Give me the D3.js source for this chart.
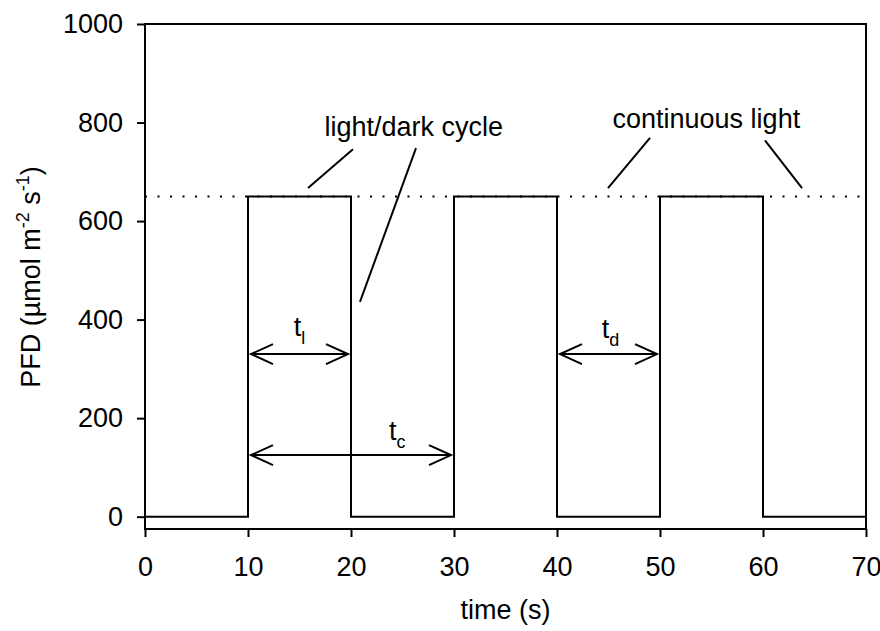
<!DOCTYPE html>
<html>
<head>
<meta charset="utf-8">
<script src="https://cdn.jsdelivr.net/npm/d3@7/dist/d3.min.js"></script>
<style>
  html, body { margin: 0; padding: 0; background: #fff; }
  svg text { font-family: "Liberation Sans", Arial, sans-serif; fill: #000; }
</style>
</head>
<body>
<svg id="chart" width="880" height="631"></svg>
<script>
// Square-wave light/dark cycle (PFD vs time)
const timePoints = [0, 10, 10, 20, 20, 30, 30, 40, 40, 50, 50, 60, 60, 70];
const pfdValues  = [0, 0, 650, 650, 0, 0, 650, 650, 0, 0, 650, 650, 0, 0];
const continuousPFD = 650;

const xTicks = [0, 10, 20, 30, 40, 50, 60, 70];
const yTicks = [0, 200, 400, 600, 800, 1000];

// Double-headed interval arrows
const intervalNames = ["t", "t", "t"];
const intervalSubs  = ["l", "c", "d"];
const intervalFrom  = [10, 10, 40];
const intervalTo    = [20, 30, 50];
const intervalLevel = [330, 125, 330];
const intervalLabelX = [15, 24.5, 45.2];
const intervalLabelY = [367, 156, 362];

// Callout text and their leader lines
const calloutText = ["light/dark cycle", "continuous light"];
const calloutX = [26.1, 54.5];
const calloutY = [773, 789];
const leaderX1 = [20.19, 26.31, 49.03, 60.19];
const leaderY1 = [746, 748, 769, 764];
const leaderX2 = [15.83, 20.87, 44.95, 63.79];
const leaderY2 = [667, 436, 667, 667];

const svg = d3.select("#chart");
const x = d3.scaleLinear().domain([0, 70]).range([145, 866]);
const y = d3.scaleLinear().domain([-25, 1000]).range([529, 24]);

const fontSize = 27;
const subSize = 18;

// frame
svg.append("rect")
  .attr("x", x(0)).attr("y", y(1000))
  .attr("width", x(70) - x(0)).attr("height", y(-25) - y(1000))
  .attr("fill", "none").attr("stroke", "#000").attr("stroke-width", 2);

// y axis
const yAxis = d3.axisLeft(y).tickValues(yTicks).tickSize(8).tickPadding(14).tickFormat(d3.format("d"));
const gy = svg.append("g").attr("transform", `translate(${x(0)},0)`).call(yAxis);
gy.select(".domain").remove();
gy.selectAll("line").attr("stroke-width", 2);
gy.selectAll("text").attr("font-size", fontSize).attr("font-family", "Liberation Sans, Arial, sans-serif");

// x axis
const xAxis = d3.axisBottom(x).tickValues(xTicks).tickSize(8).tickPadding(20).tickFormat(d3.format("d"));
const gx = svg.append("g").attr("transform", `translate(0,${y(-25)})`).call(xAxis);
gx.select(".domain").remove();
gx.selectAll("line").attr("stroke-width", 2);
gx.selectAll("text").attr("font-size", fontSize).attr("font-family", "Liberation Sans, Arial, sans-serif");

// continuous light reference (dotted)
svg.append("line")
  .attr("x1", x(0)).attr("x2", x(70))
  .attr("y1", y(continuousPFD)).attr("y2", y(continuousPFD))
  .attr("stroke", "#000").attr("stroke-width", 2)
  .attr("stroke-dasharray", "2 10.5");

// square wave
const wave = timePoints.map((t, i) => [t, pfdValues[i]]);
svg.append("path")
  .datum(wave)
  .attr("d", d3.line().x(d => x(d[0])).y(d => y(d[1])))
  .attr("fill", "none").attr("stroke", "#000").attr("stroke-width", 2);

// interval arrows
const headLen = 22, headHalf = 10, inset = 3;
intervalFrom.forEach((f, i) => {
  const x1 = x(f) + inset, x2 = x(intervalTo[i]) - inset, yy = y(intervalLevel[i]);
  const g = svg.append("g").attr("fill", "none").attr("stroke", "#000").attr("stroke-width", 2);
  g.append("line").attr("x1", x1).attr("x2", x2).attr("y1", yy).attr("y2", yy);
  g.append("path").attr("d", `M${x1 + headLen},${yy - headHalf}L${x1},${yy}L${x1 + headLen},${yy + headHalf}`);
  g.append("path").attr("d", `M${x2 - headLen},${yy - headHalf}L${x2},${yy}L${x2 - headLen},${yy + headHalf}`);
  const tx = svg.append("text")
    .attr("x", x(intervalLabelX[i])).attr("y", y(intervalLabelY[i]))
    .attr("text-anchor", "middle").attr("font-size", fontSize);
  tx.append("tspan").text(intervalNames[i]);
  tx.append("tspan").attr("font-size", subSize).attr("dy", 8).text(intervalSubs[i]);
});

// leader lines
leaderX1.forEach((v, i) => {
  svg.append("line")
    .attr("x1", x(v)).attr("y1", y(leaderY1[i]))
    .attr("x2", x(leaderX2[i])).attr("y2", y(leaderY2[i]))
    .attr("stroke", "#000").attr("stroke-width", 2);
});

// callout labels
calloutText.forEach((t, i) => {
  svg.append("text")
    .attr("x", x(calloutX[i])).attr("y", y(calloutY[i]))
    .attr("text-anchor", "middle").attr("font-size", fontSize).text(t);
});

// axis titles
svg.append("text")
  .attr("x", (x(0) + x(70)) / 2).attr("y", 619)
  .attr("text-anchor", "middle").attr("font-size", fontSize).text("time (s)");

const yt = svg.append("text")
  .attr("transform", "translate(40,277) rotate(-90)")
  .attr("text-anchor", "middle").attr("font-size", fontSize);
yt.append("tspan").text("PFD (\u00B5mol m");
yt.append("tspan").attr("font-size", subSize).attr("dy", -11).text("-2");
yt.append("tspan").attr("dy", 11).text(" s");
yt.append("tspan").attr("font-size", subSize).attr("dy", -11).text("-1");
yt.append("tspan").attr("dy", 11).text(")");
</script>
</body>
</html>
